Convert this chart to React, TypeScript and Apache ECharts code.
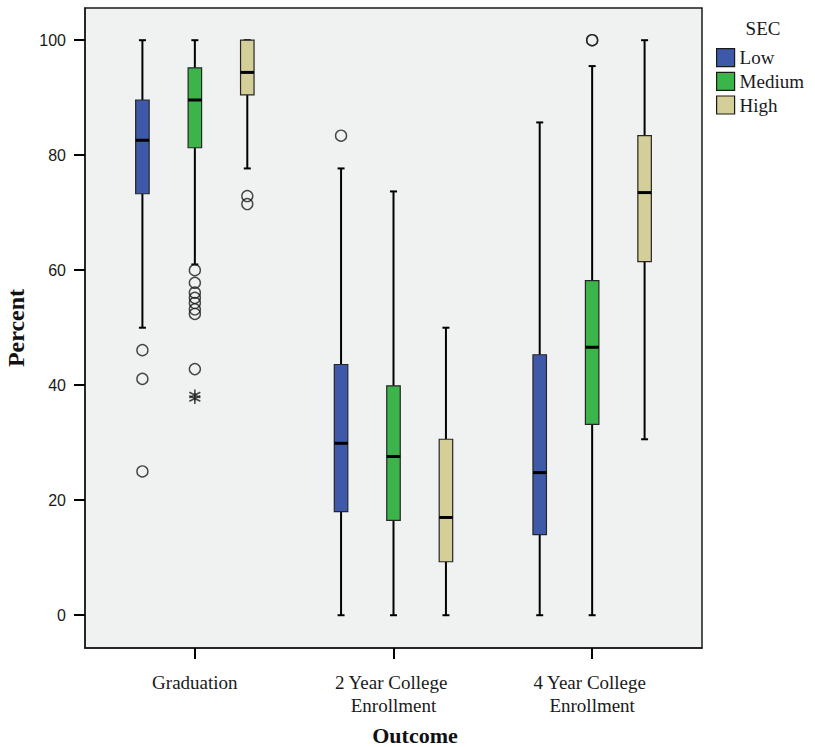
import React, { useEffect, useRef } from "react";
import * as echarts from "echarts";

// ---- data ----
const categories = ["Graduation", "2 Year College Enrollment", "4 Year College Enrollment"];
const secLevels = ["Low", "Medium", "High"];
const yTicks = [0, 20, 40, 60, 80, 100];

// [lower whisker, Q1, median, Q3, upper whisker] per category
const lowStats = [
  [50.0, 73.3, 82.6, 89.6, 100],
  [0, 18.0, 29.9, 43.6, 77.7],
  [0, 14.0, 24.8, 45.3, 85.7],
];
const mediumStats = [
  [61.0, 81.3, 89.6, 95.2, 100],
  [0, 16.5, 27.6, 39.9, 73.7],
  [0, 33.2, 46.6, 58.2, 95.5],
];
const highStats = [
  [77.7, 90.5, 94.4, 100, 100],
  [0, 9.3, 17.0, 30.6, 50.0],
  [30.6, 61.5, 73.5, 83.4, 100],
];

// outliers (circles) per category
const lowOutliers = [[46.1, 41.1, 25.0], [83.4], []];
const mediumOutliers = [[60.0, 57.8, 56.1, 55.2, 54.3, 53.2, 52.4, 42.8], [], [100, 100]];
const highOutliers = [[72.9, 71.5], [], []];
// extreme values (asterisks)
const lowExtremes = [[], [], []];
const mediumExtremes = [[38.3, 37.7], [], []];
const highExtremes = [[], [], []];

const colors = ["#3D59A8", "#3BB54A", "#D4CF98"];

const statsBySec = [lowStats, mediumStats, highStats];
const outliersBySec = [lowOutliers, mediumOutliers, highOutliers];
const extremesBySec = [lowExtremes, mediumExtremes, highExtremes];

const GROUP_OFFSET = 0.264;
const BOX_W = 13.5;
const CAP_W = 7;

export default function App() {
  const ref = useRef<HTMLDivElement>(null);

  useEffect(() => {
    document.body.style.margin = "0";
    if (!ref.current) return;
    const chart = echarts.init(ref.current, null, { renderer: "svg" });

    const xOf = (cat: number, sec: number) => cat + (sec - 1) * GROUP_OFFSET;

    const boxSeries = secLevels.map((name, s) => ({
      name,
      type: "custom",
      itemStyle: { color: colors[s] },
      encode: { x: 0, y: [1, 2, 3, 4, 5] },
      data: statsBySec[s].map((st, c) => [xOf(c, s), ...st]),
      renderItem: (params: any, api: any) => {
        const x = api.value(0);
        const pLow = api.coord([x, api.value(1)]);
        const cx = pLow[0];
        const yLow = pLow[1];
        const yQ1 = api.coord([x, api.value(2)])[1];
        const yMed = api.coord([x, api.value(3)])[1];
        const yQ3 = api.coord([x, api.value(4)])[1];
        const yHigh = api.coord([x, api.value(5)])[1];
        const h = BOX_W / 2;
        const c = CAP_W / 2;
        const wStyle = { stroke: "#000", lineWidth: 2 };
        return {
          type: "group",
          children: [
            { type: "line", shape: { x1: cx, y1: yQ3, x2: cx, y2: yHigh }, style: wStyle },
            { type: "line", shape: { x1: cx, y1: yLow, x2: cx, y2: yQ1 }, style: wStyle },
            { type: "line", shape: { x1: cx - c, y1: yHigh, x2: cx + c, y2: yHigh }, style: wStyle },
            { type: "line", shape: { x1: cx - c, y1: yLow, x2: cx + c, y2: yLow }, style: wStyle },
            {
              type: "rect",
              shape: { x: cx - h, y: yQ3, width: 2 * h, height: yQ1 - yQ3 },
              style: { fill: colors[s], stroke: "#262626", lineWidth: 1.2 },
            },
            {
              type: "line",
              shape: { x1: cx - h, y1: yMed, x2: cx + h, y2: yMed },
              style: { stroke: "#000", lineWidth: 3 },
            },
          ],
        };
      },
      z: 2,
    }));

    const outlierData: number[][] = [];
    const extremeData: number[][] = [];
    for (let s = 0; s < 3; s++) {
      for (let c = 0; c < categories.length; c++) {
        outliersBySec[s][c].forEach((v) => outlierData.push([xOf(c, s), v]));
        extremesBySec[s][c].forEach((v) => extremeData.push([xOf(c, s), v]));
      }
    }

    const serif = "'Liberation Serif', 'Times New Roman', serif";
    const sans = "'Liberation Sans', Arial, sans-serif";

    chart.setOption({
      animation: false,
      grid: {
        left: 85,
        right: 113,
        top: 8,
        bottom: 99,
        containLabel: false,
        outerBoundsMode: "none",
        show: true,
        backgroundColor: "#F0F2F1",
        borderColor: "#1a1a1a",
        borderWidth: 1.5,
      },
      legend: {
        orient: "vertical",
        left: 716,
        top: 48,
        padding: 0,
        itemWidth: 18,
        itemHeight: 18,
        itemGap: 4.5,
        icon: "rect",
        textStyle: { fontFamily: serif, fontSize: 19, color: "#1a1a1a" },
        data: secLevels.map((n, i) => ({
          name: n,
          itemStyle: { color: colors[i], borderColor: "#1a1a1a", borderWidth: 1.2 },
        })),
      },
      graphic: [
        {
          type: "text",
          x: 763,
          y: 28,
          style: {
            text: "SEC",
            fontFamily: serif,
            fontSize: 19,
            fill: "#1a1a1a",
            textAlign: "center",
            textVerticalAlign: "middle",
          },
        },
        {
          type: "text",
          x: 415,
          y: 735,
          style: {
            text: "Outcome",
            fontFamily: serif,
            fontWeight: "bold",
            fontSize: 22,
            fill: "#111",
            textAlign: "center",
            textVerticalAlign: "middle",
          },
        },
      ],
      xAxis: {
        type: "value",
        min: -0.553,
        max: 2.553,
        splitLine: { show: false },
        axisLine: { show: true, onZero: false, lineStyle: { color: "#1a1a1a", width: 1.5 } },
        axisTick: {
          show: true,
          customValues: [0, 1, 2],
          length: 11,
          inside: false,
          lineStyle: { color: "#000", width: 2 },
        },
        axisLabel: {
          customValues: [0, 1, 2],
          formatter: (v: number) => categories[Math.round(v)],
          fontFamily: serif,
          fontSize: 19,
          color: "#1a1a1a",
          margin: 23,
          lineHeight: 23,
          width: 150,
          overflow: "break",
          align: "center",
        },
      },
      yAxis: {
        type: "value",
        min: -5.7,
        max: 105.6,
        name: "Percent",
        nameLocation: "middle",
        nameGap: 56,
        nameTextStyle: { fontFamily: serif, fontWeight: "bold", fontSize: 24, color: "#111" },
        splitLine: { show: false },
        axisLine: { show: true, onZero: false, lineStyle: { color: "#1a1a1a", width: 1.5 } },
        axisTick: {
          show: true,
          customValues: yTicks,
          length: 11,
          lineStyle: { color: "#000", width: 2 },
        },
        axisLabel: {
          customValues: yTicks,
          fontFamily: sans,
          fontSize: 16,
          color: "#1a1a1a",
          margin: 19,
        },
      },
      series: [
        ...boxSeries,
        {
          name: "outliers",
          type: "scatter",
          symbol: "circle",
          symbolSize: 11,
          data: outlierData,
          itemStyle: { color: "rgba(0,0,0,0)", borderColor: "#1a1a1a", borderWidth: 1.4 },
          z: 3,
        },
        {
          name: "extremes",
          type: "scatter",
          symbol: "path://M6,0L6,12M0.8,3L11.2,9M0.8,9L11.2,3",
          symbolSize: 11,
          data: extremeData,
          itemStyle: { color: "none", borderColor: "#1a1a1a", borderWidth: 1.6 },
          z: 3,
        },
      ],
    });

    return () => chart.dispose();
  }, []);

  return <div ref={ref} style={{ width: 815, height: 747 }} />;
}
